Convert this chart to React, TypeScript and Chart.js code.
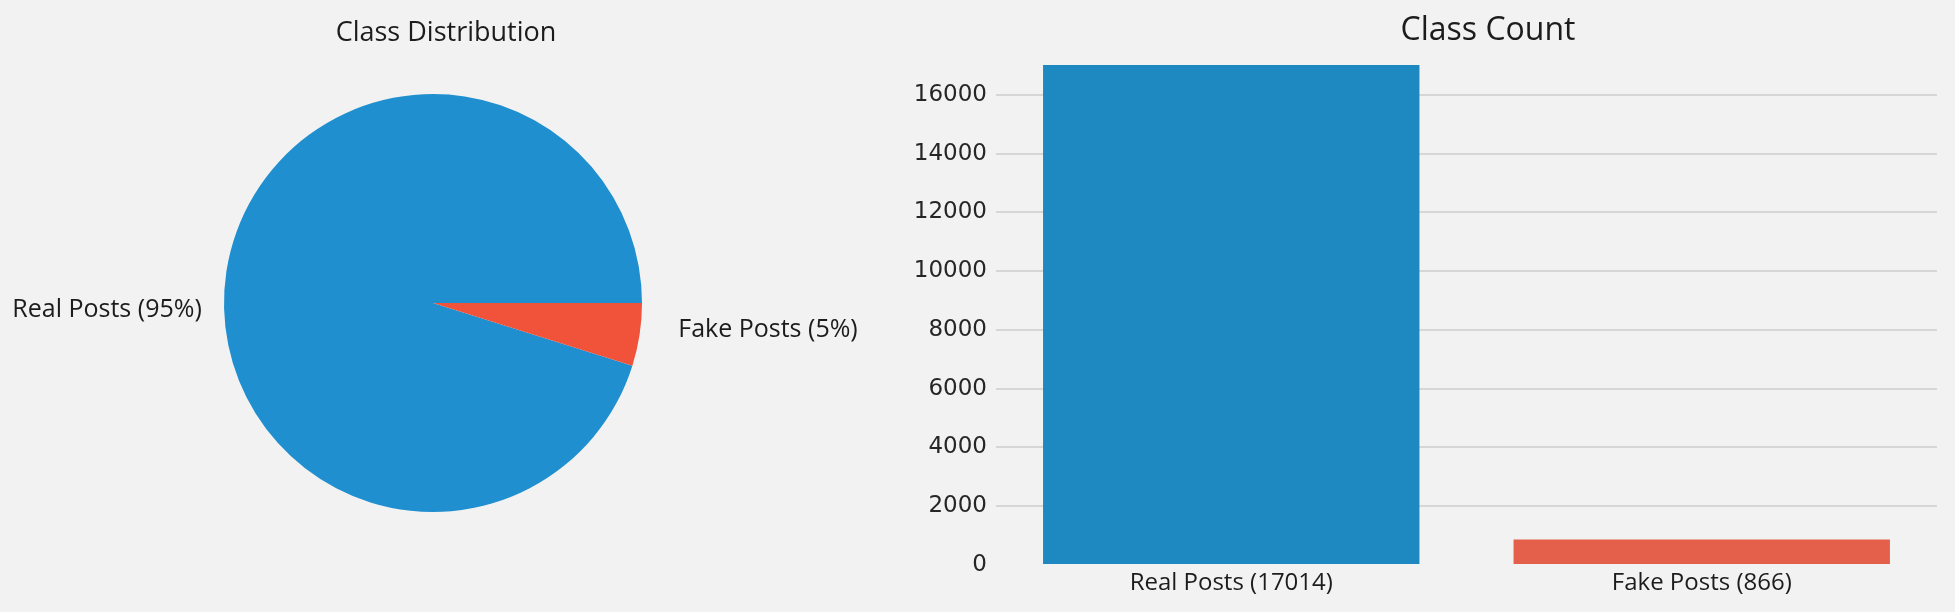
import React, { useEffect, useRef } from "react";
import { Chart, registerables } from "chart.js";

Chart.register(...registerables);

// ---- data ----
const categories = ["Real Posts", "Fake Posts"];
const counts = [17014, 866];
const pieLabels = ["Real Posts (95%)", "Fake Posts (5%)"];
const barTickLabels = ["Real Posts (17014)", "Fake Posts (866)"];
const yTickValues = [0, 2000, 4000, 6000, 8000, 10000, 12000, 14000, 16000];
const yMax = 17865;

// ---- styles ----
const BG = "#f2f2f2";
const pieColors = ["#1f8fcf", "#f0523a"];
const barColors = ["#1e88c0", "#e4604a"];
const TEXT = "#1c1c1c";
const HUMANIST = "'Open Sans', 'Noto Sans', sans-serif";

type TextItem = { text: string; x: number; y: number; size: number; align: CanvasTextAlign; family: string };

const textPlugin = {
  id: "freeText",
  afterDraw(chart: any, _args: any, opts: any) {
    const items: TextItem[] = opts.items || [];
    const ctx = chart.ctx;
    ctx.save();
    for (const it of items) {
      ctx.font = `${it.size}px ${it.family}`;
      ctx.fillStyle = TEXT;
      ctx.textAlign = it.align;
      ctx.textBaseline = "alphabetic";
      ctx.fillText(it.text, it.x, it.y);
    }
    ctx.restore();
  },
};

const pieLabelPlugin = {
  id: "pieOuterLabels",
  afterDraw(chart: any, _args: any, opts: any) {
    const meta = chart.getDatasetMeta(0);
    const ctx = chart.ctx;
    const offsets = opts.offsets || [];
    ctx.save();
    ctx.font = `25px ${HUMANIST}`;
    ctx.fillStyle = TEXT;
    ctx.textBaseline = "alphabetic";
    meta.data.forEach((arc: any, i: number) => {
      const mid = (arc.startAngle + arc.endAngle) / 2;
      const r = arc.outerRadius;
      const right = Math.cos(mid) > 0;
      const o = offsets[i] || { dx: 0, dy: 0 };
      ctx.textAlign = right ? "left" : "right";
      const x = arc.x + Math.cos(mid) * r * 1.1 + o.dx;
      const y = arc.y + o.dy;
      ctx.fillText(pieLabels[i], x, y);
    });
    ctx.restore();
  },
};

function PieChart() {
  const ref = useRef<HTMLCanvasElement>(null);
  useEffect(() => {
    const total = counts.reduce((a, b) => a + b, 0);
    const rotation = 90 + (360 * counts[1]) / total;
    const chart = new Chart(ref.current!, {
      type: "pie",
      data: {
        labels: categories,
        datasets: [{ data: counts, backgroundColor: pieColors, borderWidth: 0 }],
      },
      options: {
        animation: false,
        responsive: false,
        rotation,
        layout: { padding: { left: 224, right: 228, top: 94, bottom: 100 } },
        plugins: {
          legend: { display: false },
          tooltip: { enabled: false },
          title: { display: false },
          freeText: {
            items: [{ text: "Class Distribution", x: 446, y: 41, size: 27, align: "center", family: HUMANIST }],
          },
          pieOuterLabels: { offsets: [{ dx: -4, dy: 14 }, { dx: 18, dy: 34 }] },
        } as any,
      },
      plugins: [textPlugin, pieLabelPlugin],
    });
    return () => chart.destroy();
  }, []);
  return <canvas ref={ref} width={870} height={612} style={{ position: "absolute", left: 0, top: 0, width: 870, height: 612 }} />;
}

function BarChart() {
  const ref = useRef<HTMLCanvasElement>(null);
  useEffect(() => {
    const chart = new Chart(ref.current!, {
      type: "bar",
      data: {
        labels: barTickLabels,
        datasets: [
          {
            data: counts,
            backgroundColor: barColors,
            borderWidth: 0,
            barPercentage: 0.8,
            categoryPercentage: 1,
          },
        ],
      },
      options: {
        animation: false,
        responsive: false,
        layout: { padding: { left: 44, right: 18, top: 40, bottom: 0 } },
        scales: {
          x: {
            grid: { display: false, drawTicks: false },
            border: { display: false },
            ticks: { color: TEXT, font: { family: HUMANIST, size: 24 }, padding: 4, maxRotation: 0 },
            afterFit: (s: any) => { s.height = 47; },
          },
          y: {
            min: 0,
            max: yMax,
            grid: {
              drawTicks: false,
              lineWidth: 2,
              color: (c: any) => (c.tick && c.tick.value === 0 ? "rgba(0,0,0,0)" : "#d6d6d6"),
            },
            border: { display: false },
            ticks: {
              color: "#262626",
              font: { family: "'DejaVu Sans', sans-serif", size: 23 },
              padding: 9,
              autoSkip: false,
              callback: (v: any) => String(v),
            },
            afterBuildTicks: (s: any) => {
              s.ticks = yTickValues.map((v) => ({ value: v }));
            },
            afterFit: (s: any) => { s.width = 82; },
          },
        },
        plugins: {
          legend: { display: false },
          tooltip: { enabled: false },
          title: { display: false },
          freeText: {
            items: [{ text: "Class Count", x: 618, y: 40, size: 32, align: "center", family: HUMANIST }],
          },
        } as any,
      },
      plugins: [textPlugin],
    });
    return () => chart.destroy();
  }, []);
  return <canvas ref={ref} width={1085} height={612} style={{ position: "absolute", left: 870, top: 0, width: 1085, height: 612 }} />;
}

export default function App() {
  return (
    <div style={{ position: "fixed", left: 0, top: 0, width: 1955, height: 612, background: BG, overflow: "hidden" }}>
      <PieChart />
      <BarChart />
    </div>
  );
}
